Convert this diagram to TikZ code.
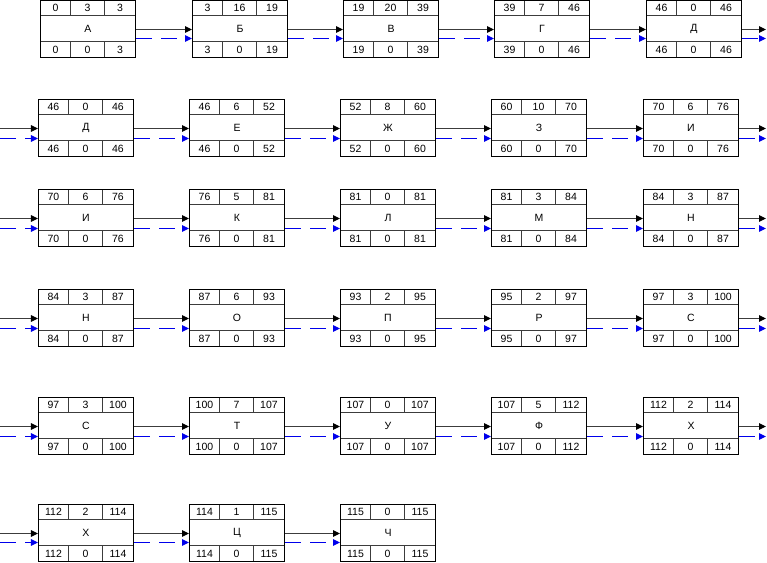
\documentclass[tikz,border=0pt]{standalone}
\usepackage{fontspec}
\setmainfont{Liberation Sans}
\usetikzlibrary{arrows.meta}
\definecolor{arrblue}{RGB}{0,0,235}
\definecolor{linegray}{RGB}{60,60,60}
\begin{document}
\begin{tikzpicture}[x=1bp,y=-1bp,
  font=\fontsize{10.5bp}{12bp}\selectfont,
  mainbox/.style={draw=black,line width=1bp,minimum width=95bp,minimum height=57bp,inner sep=0pt,anchor=center},
  cellline/.style={draw=linegray,line width=1bp},
  cellnum/.style={inner sep=0pt,anchor=center},
  solidarr/.style={draw=linegray,line width=1bp,-{Triangle[length=7bp,width=6.5bp,color=black]}},
  bluearr/.style={draw=arrblue,color=arrblue,line width=1bp,dash pattern=on 16bp off 9bp,-{Triangle[length=7bp,width=6.5bp,color=arrblue]}}
]
\useasboundingbox (0,0) rectangle (767,563);
\foreach \n/\x/\y/\l/\a/\b/\c/\d/\e/\f in {
  a1/40.5/0.5/А/0/3/3/0/0/3,
  a2/192.5/0.5/Б/3/16/19/3/0/19,
  a3/343.5/0.5/В/19/20/39/19/0/39,
  a4/494.5/0.5/Г/39/7/46/39/0/46,
  a5/646.5/0.5/Д/46/0/46/46/0/46,
  b1/38.5/99.5/Д/46/0/46/46/0/46,
  b2/189.5/99.5/Е/46/6/52/46/0/52,
  b3/340.5/99.5/Ж/52/8/60/52/0/60,
  b4/491.5/99.5/З/60/10/70/60/0/70,
  b5/643.5/99.5/И/70/6/76/70/0/76,
  c1/38.5/189.5/И/70/6/76/70/0/76,
  c2/189.5/189.5/К/76/5/81/76/0/81,
  c3/340.5/189.5/Л/81/0/81/81/0/81,
  c4/491.5/189.5/М/81/3/84/81/0/84,
  c5/643.5/189.5/Н/84/3/87/84/0/87,
  d1/38.5/289.5/Н/84/3/87/84/0/87,
  d2/189.5/289.5/О/87/6/93/87/0/93,
  d3/340.5/289.5/П/93/2/95/93/0/95,
  d4/491.5/289.5/Р/95/2/97/95/0/97,
  d5/643.5/289.5/С/97/3/100/97/0/100,
  e1/38.5/397.5/С/97/3/100/97/0/100,
  e2/189.5/397.5/Т/100/7/107/100/0/107,
  e3/340.5/397.5/У/107/0/107/107/0/107,
  e4/491.5/397.5/Ф/107/5/112/107/0/112,
  e5/643.5/397.5/Х/112/2/114/112/0/114,
  f1/38.5/504.5/Х/112/2/114/112/0/114,
  f2/189.5/504.5/Ц/114/1/115/114/0/115,
  f3/340.5/504.5/Ч/115/0/115/115/0/115}{
  \node[mainbox] (\n) at (\x+47.5,\y+28.5) {\l};
  \path[cellline] (\x,\y+15) -- ++(95,0)
                  (\x,\y+41) -- ++(95,0)
                  (\x+30,\y) -- ++(0,15)
                  (\x+64,\y) -- ++(0,15)
                  (\x+30,\y+41) -- ++(0,16)
                  (\x+64,\y+41) -- ++(0,16);
  \draw[black,line width=1bp] (\x,\y) rectangle ++(95,57);
  \node[cellnum] (\n-a) at (\x+15,\y+7.75) {\a};
  \node[cellnum] (\n-b) at (\x+47,\y+7.75) {\b};
  \node[cellnum] (\n-c) at (\x+79.5,\y+7.75) {\c};
  \node[cellnum] (\n-d) at (\x+15,\y+49.25) {\d};
  \node[cellnum] (\n-e) at (\x+47,\y+49.25) {\e};
  \node[cellnum] (\n-f) at (\x+79.5,\y+49.25) {\f};
}
% row start / end coordinates
\foreach \r/\y in {b/99.5,c/189.5,d/289.5,e/397.5,f/504.5}{
  \coordinate (\r-in) at (0,\y+28.5);
}
\foreach \r/\y in {a/0.5,b/99.5,c/189.5,d/289.5,e/397.5}{
  \coordinate (\r-out) at (766,\y+28.5);
}
% connectors within rows
\foreach \r/\m/\bo in {a/5/-9.5,b/5/-10.5,c/5/-10.5,d/5/-10.5,e/5/-10.5,f/3/-9.5}{
  \foreach \i [evaluate=\i as \j using int(\i+1)] in {1,...,4}{
    \ifnum\j>\m\relax\else
      \draw[solidarr] ([yshift=-0.5bp]\r\i.east) -- ([yshift=-0.5bp]\r\j.west);
      \draw[bluearr] ([yshift=\bo bp]\r\i.east) -- ([yshift=\bo bp]\r\j.west);
    \fi
  }
}
% row ends
\foreach \r/\bo in {a/-9.5,b/-10.5,c/-10.5,d/-10.5,e/-10.5}{
  \draw[solidarr] ([yshift=-0.5bp]\r5.east) -- ([yshift=-0.5bp]\r-out);
  \draw[bluearr] ([yshift=\bo bp]\r5.east) -- ([yshift=\bo bp]\r-out);
}
% row starts
\foreach \r/\bo in {b/-10.5,c/-10.5,d/-10.5,e/-10.5,f/-9.5}{
  \draw[solidarr] ([yshift=-0.5bp]\r-in) -- ([yshift=-0.5bp]\r1.west);
  \draw[bluearr] ([yshift=\bo bp]\r-in) -- ([yshift=\bo bp]\r1.west);
}
\end{tikzpicture}
\end{document}
